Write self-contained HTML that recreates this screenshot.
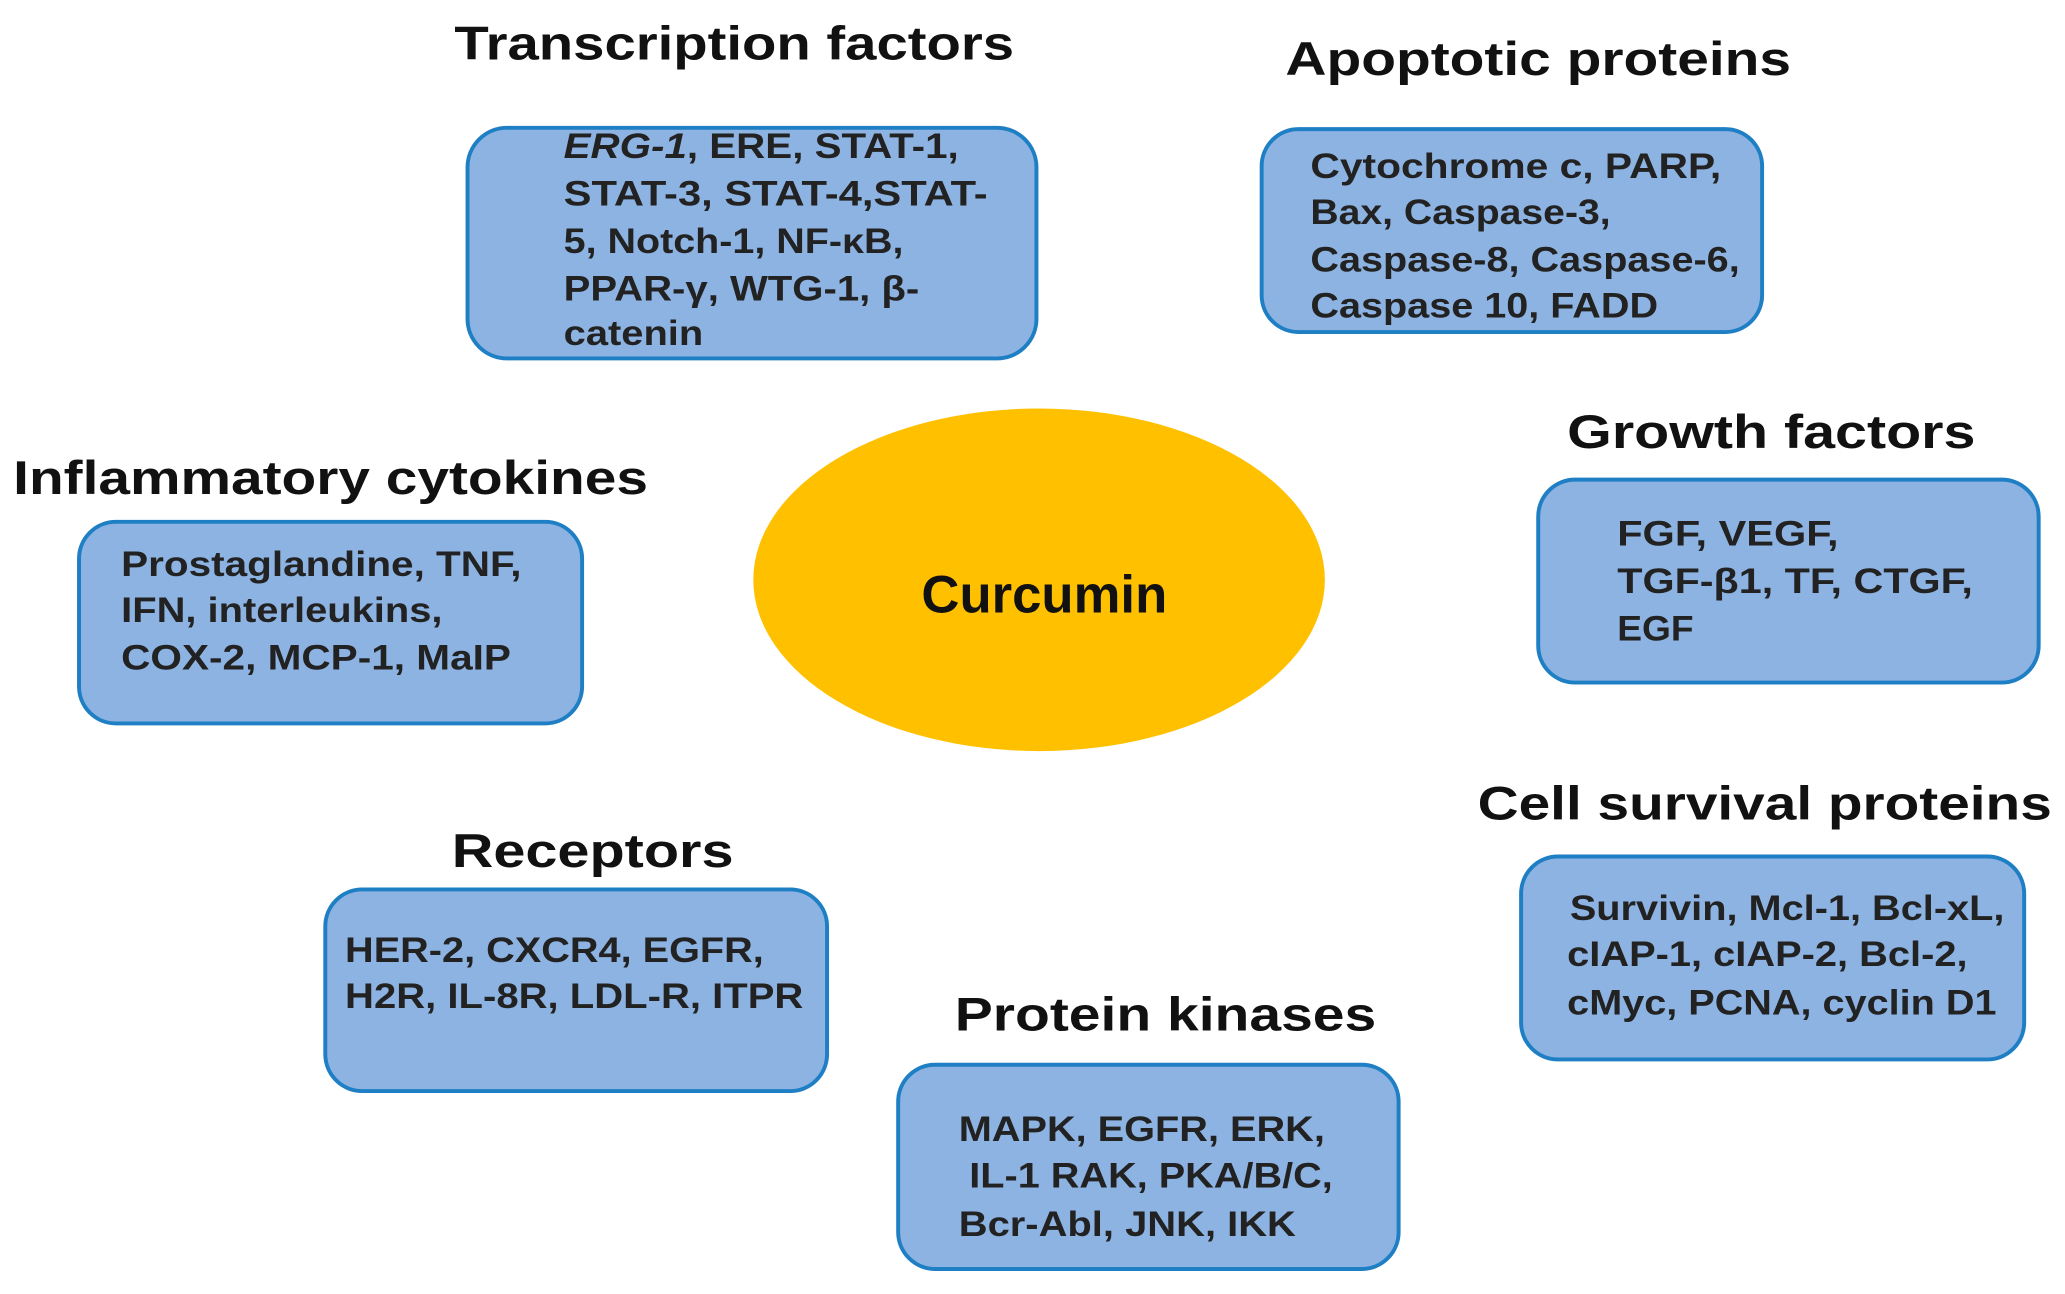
<!DOCTYPE html>
<html><head><style>html,body{margin:0;padding:0;background:#fff}svg{display:block}</style></head>
<body>
<svg width="2065" height="1294" viewBox="0 0 1568 982" preserveAspectRatio="none" xmlns="http://www.w3.org/2000/svg" font-family="Liberation Sans, Arial, sans-serif" font-weight="bold">
<g fill="#8db3e2" stroke="#1f7fc4" stroke-width="3">
<rect x="355" y="97" width="432" height="175" rx="30"/>
<rect x="958" y="98" width="380" height="154" rx="28"/>
<rect x="1168" y="364" width="380" height="154" rx="28"/>
<rect x="60" y="396" width="382" height="153" rx="28"/>
<rect x="1155" y="650" width="382" height="154" rx="28"/>
<rect x="247" y="675" width="381" height="153" rx="28"/>
<rect x="682" y="808" width="380" height="155" rx="28"/>
</g>
<ellipse cx="789" cy="440" rx="217" ry="130" fill="#ffc000"/>
<text x="793" y="465" font-size="40" text-anchor="middle" fill="#111">Curcumin</text>
<g font-size="36" fill="#111">
<text x="345" y="45" textLength="425" lengthAdjust="spacingAndGlyphs">Transcription factors</text>
<text x="976" y="57" textLength="384" lengthAdjust="spacingAndGlyphs">Apoptotic proteins</text>
<text x="1190" y="340" textLength="310" lengthAdjust="spacingAndGlyphs">Growth factors</text>
<text x="10" y="375" textLength="482" lengthAdjust="spacingAndGlyphs">Inflammatory cytokines</text>
<text x="1122" y="622" textLength="436" lengthAdjust="spacingAndGlyphs">Cell survival proteins</text>
<text x="343" y="658" textLength="214" lengthAdjust="spacingAndGlyphs">Receptors</text>
<text x="725" y="782" textLength="320" lengthAdjust="spacingAndGlyphs">Protein kinases</text>
</g>
<g font-size="27" fill="#222" lengthAdjust="spacingAndGlyphs">
<text x="428" y="120" textLength="300" lengthAdjust="spacingAndGlyphs"><tspan font-style="italic">ERG-1</tspan>, ERE,  STAT-1,</text>
<text x="428" y="156" textLength="322" lengthAdjust="spacingAndGlyphs">STAT-3,  STAT-4,STAT-</text>
<text x="428" y="192" textLength="258" lengthAdjust="spacingAndGlyphs">5, Notch-1,  NF-κB,</text>
<text x="428" y="228" textLength="270" lengthAdjust="spacingAndGlyphs">PPAR-γ, WTG-1, β-</text>
<text x="428" y="262" textLength="106" lengthAdjust="spacingAndGlyphs">catenin</text>

<text x="995" y="135" textLength="312" lengthAdjust="spacingAndGlyphs">Cytochrome c, PARP,</text>
<text x="995" y="170" textLength="228" lengthAdjust="spacingAndGlyphs">Bax, Caspase-3,</text>
<text x="995" y="206" textLength="326" lengthAdjust="spacingAndGlyphs">Caspase-8,  Caspase-6,</text>
<text x="995" y="241" textLength="264" lengthAdjust="spacingAndGlyphs">Caspase 10, FADD</text>

<text x="1228" y="414" textLength="168" lengthAdjust="spacingAndGlyphs">FGF, VEGF,</text>
<text x="1228" y="450" textLength="270" lengthAdjust="spacingAndGlyphs">TGF-β1, TF, CTGF,</text>
<text x="1228" y="486" textLength="58" lengthAdjust="spacingAndGlyphs">EGF</text>

<text x="92" y="437" textLength="304" lengthAdjust="spacingAndGlyphs">Prostaglandine, TNF,</text>
<text x="92" y="472" textLength="244" lengthAdjust="spacingAndGlyphs">IFN, interleukins,</text>
<text x="92" y="508" textLength="296" lengthAdjust="spacingAndGlyphs">COX-2, MCP-1, MaIP</text>

<text x="1192" y="698" textLength="330" lengthAdjust="spacingAndGlyphs">Survivin, Mcl-1, Bcl-xL,</text>
<text x="1190" y="733" textLength="304" lengthAdjust="spacingAndGlyphs">cIAP-1, cIAP-2, Bcl-2,</text>
<text x="1190" y="770" textLength="326" lengthAdjust="spacingAndGlyphs">cMyc, PCNA,  cyclin D1</text>

<text x="262" y="730" textLength="318" lengthAdjust="spacingAndGlyphs">HER-2,  CXCR4,  EGFR,</text>
<text x="262" y="765" textLength="348" lengthAdjust="spacingAndGlyphs">H2R,  IL-8R,  LDL-R,  ITPR</text>

<text x="728" y="866" textLength="278" lengthAdjust="spacingAndGlyphs">MAPK, EGFR, ERK,</text>
<text x="736" y="901" textLength="276" lengthAdjust="spacingAndGlyphs">IL-1 RAK, PKA/B/C,</text>
<text x="728" y="938" textLength="256" lengthAdjust="spacingAndGlyphs">Bcr-Abl, JNK, IKK</text>
</g>
</svg>
</body></html>
